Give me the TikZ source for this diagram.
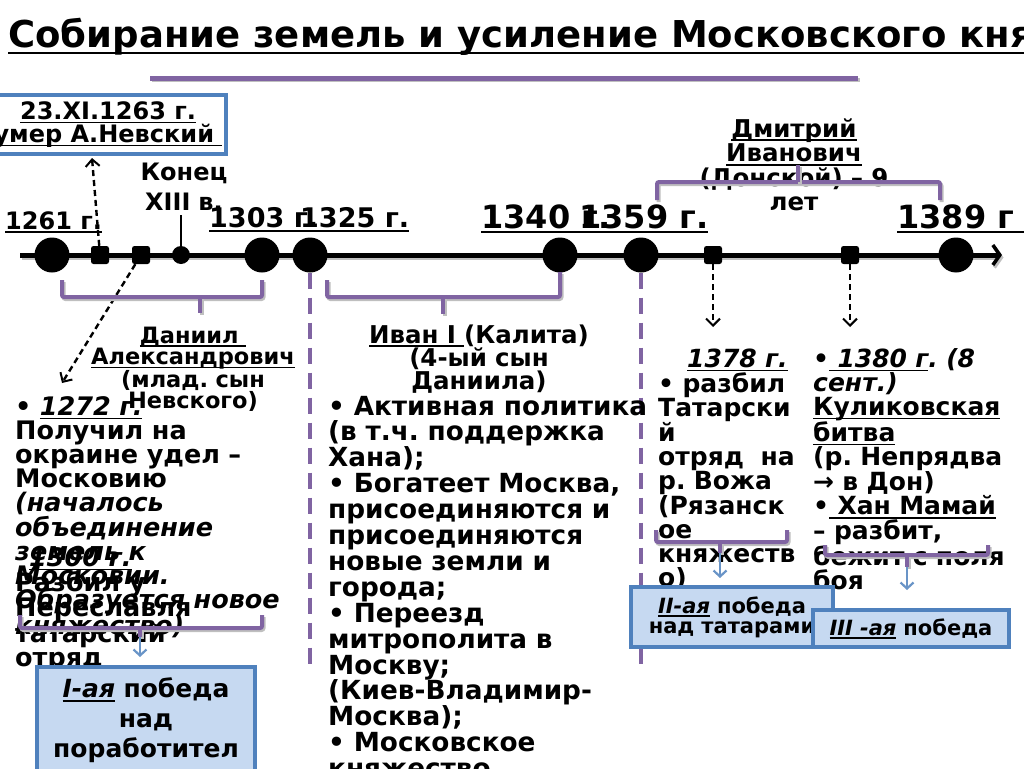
\documentclass[tikz,border=0pt]{standalone}
\usepackage{fontspec}
\setmainfont{DejaVu Sans}
\usetikzlibrary{arrows.meta,positioning}
\definecolor{brkpurple}{HTML}{8064A2}
\definecolor{boxblue}{HTML}{4F81BD}
\definecolor{boxfill}{HTML}{C6D9F1}
\lineskiplimit=-50pt
\frenchspacing
\newsavebox{\ulbox}
\newcommand{\undl}[1]{\leavevmode\sbox{\ulbox}{#1}\rlap{\vrule height -0.1em depth 0.17em width \wd\ulbox}\usebox{\ulbox}}
\tikzset{
  >={Straight Barb[length=7pt,width=14pt,line width=2pt]},
  tlpt/.style={circle,fill=black,minimum size=35pt,inner sep=0pt},
  tlsq/.style={rectangle,rounded corners=2.5pt,fill=black,minimum size=18pt,inner sep=0pt},
  tldot/.style={circle,fill=black,minimum size=18pt,inner sep=0pt},
  tlline/.style={line width=5pt,-{Straight Barb[length=7pt,width=20pt,line width=3.5pt]},
    preaction={draw=black!25,line width=5pt,transform canvas={shift={(1.5pt,-2.5pt)}}}},
  yearlbl/.style={anchor=base west,inner sep=0pt},
  brk/.style={draw=brkpurple,line width=4pt,rounded corners=2pt,
    preaction={draw=black!25,line width=4pt,transform canvas={shift={(1.5pt,-2pt)}}}},
  brkdash/.style={draw=brkpurple,line width=4pt,dash pattern=on 16pt off 9pt},
  pointer/.style={->,line width=2.4pt,dash pattern=on 6pt off 4pt},
  bluearr/.style={-{Straight Barb[length=6pt,width=13pt,line width=2.2pt]},draw=boxblue!85,line width=1.6pt},
  infotxt/.style={anchor=base west,inner sep=0pt,align=left},
  headtxt/.style={anchor=base,inner sep=0pt,align=center},
  winbox/.style={draw=boxblue,fill=boxfill,line width=3.5pt,inner sep=0pt,align=center},
}

\begin{document}
\begin{tikzpicture}[x=1pt,y=-1pt]
  \useasboundingbox (0,0) rectangle (1024,768);
  \clip (0,0) rectangle (1024,768);

  % title
  \node[yearlbl,font=\fontsize{37}{40}\selectfont\bfseries] (title) at (8,48)
    {\undl{Собирание земель и усиление Московского кня}};
  \draw[brk,line width=5pt,rounded corners=0pt] (150,78) -- (858,78);

  % box 1263
  \node[winbox,fill=white,minimum width=236pt,minimum height=59pt,
    font=\fontsize{24}{23}\selectfont\bfseries] (nevbox) at (108,124.5)
    {\undl{23.XI.1263 г.}\\\undl{умер А.Невский }};

  % timeline
  \coordinate (tlstart) at (20,255);
  \coordinate (tlend) at (1002,255);
  \draw[tlline] (tlstart) -- (tlend);
  \foreach \yr/\xx in {1261/52,1303/262,1325/310,1340/560,1359/641,1389/956}
    \node[tlpt] (t\yr) at (\xx,255) {};
  \foreach \yr/\xx in {1263/100,1272/141,1378/713,1380/850}
    \node[tlsq] (sq\yr) at (\xx,255) {};
  \node[tldot] (konec) at (181,255) {};
  \coordinate (kontop) at (181,215);
  \draw[line width=2.5pt] (konec) -- (kontop);

  % years
  \node[headtxt,text width=100pt,font=\fontsize{24}{30}\selectfont\bfseries] (konlbl)
    at (184,180) {Конец\\XIII в.};
  \node[yearlbl,font=\fontsize{24}{24}\selectfont\bfseries] (l1261) at (5,229) {\undl{1261 г.}};
  \node[yearlbl,font=\fontsize{27}{27}\selectfont\bfseries] (l1303) at (209,227) {\undl{1303 г.}};
  \node[yearlbl,font=\fontsize{27}{27}\selectfont\bfseries] (l1325) at (300,227) {\undl{1325 г.}};
  \node[yearlbl,font=\fontsize{32}{32}\selectfont\bfseries] (l1340) at (481,228) {\undl{1340 г.}};
  \node[yearlbl,font=\fontsize{32}{32}\selectfont\bfseries] (l1359) at (579,228) {\undl{1359 г.}};
  \node[yearlbl,font=\fontsize{32}{32}\selectfont\bfseries] (l1389) at (897,228) {\undl{1389 г\ \ }};

  \node[headtxt,text width=220pt,font=\fontsize{24.5}{24.5}\selectfont\bfseries] (dmlbl)
    at (794,137) {\undl{Дмитрий}\\\undl{Иванович}\\(Донской) – 9\\лет};
  \draw[brk] (657,200) -- (657,182) -- (940,182) -- (940,200);
  \draw[brk] (798,182) -- (798,165);

  % pointers
  \coordinate (p1263) at (92,158);
  \coordinate (p1272) at (62,383);
  \coordinate (p1378) at (713,327);
  \coordinate (p1380) at (850,327);
  \draw[pointer] (sq1263) -- (p1263);
  \draw[pointer] (sq1272) -- (p1272);
  \draw[pointer] (sq1378) -- (p1378);
  \draw[pointer] (sq1380) -- (p1380);

  % periods
  \coordinate (d1325) at (310,668);
  \coordinate (d1359) at (641,668);
  \draw[brkdash] (t1325.south) -- (d1325);
  \draw[brkdash] (t1359.south) -- (d1359);
  \draw[brk] (62,280) -- (62,297) -- (262,297) -- (262,280);
  \draw[brk] (200,297) -- (200,313);
  \draw[brk] (327,280) -- (327,297) -- (560,297) -- (560,272);
  \draw[brk] (443,297) -- (443,314);

  % Daniil
  \node[headtxt,text width=220pt,font=\fontsize{22.5}{21.5}\selectfont\bfseries] (danlbl)
    at (193,343) {\undl{Даниил }\\\undl{Александрович}\\(млад. сын\\Невского)};
  \node[infotxt,text width=320pt,font=\fontsize{25.5}{24.2}\selectfont\bfseries] (dantxt)
    at (15,415) {• \undl{\itshape 1272 г.}\\Получил на\\окраине удел –\\Московию\\
    \textit{(началось}\\\textit{объединение}\\\textit{земель к}\\\textit{Московии.}\\
    \textit{Образуется новое}\\\textit{княжество)}};
  \node[infotxt,text width=320pt,font=\fontsize{25.5}{23.8}\selectfont\bfseries] (d1300txt)
    at (15,566) {\hspace*{14pt}\undl{\itshape 1300 г.}\\Разбил у\\Переславля\\татарский\\отряд};

  % Ivan
  \node[headtxt,text width=300pt,font=\fontsize{24.5}{22.5}\selectfont\bfseries] (ivlbl)
    at (479,343) {\undl{Иван I }(Калита)\\(4-ый сын\\Даниила)};
  \node[infotxt,text width=340pt,font=\fontsize{26.3}{25.9}\selectfont\bfseries] (ivtxt)
    at (328,415) {• Активная политика\\(в т.ч. поддержка\\Хана);\\• Богатеет Москва,\\
    присоединяются и\\присоединяются\\новые земли и\\города;\\• Переезд\\митрополита в\\
    Москву;\\(Киев-Владимир-\\Москва);\\• Московское\\княжество};

  % Dmitry
  \node[infotxt,text width=160pt,font=\fontsize{25}{24}\selectfont\bfseries] (t1378txt)
    at (658,367) {\hspace*{29pt}\undl{\itshape 1378 г.}\\• разбил\\Татарски\\й\\отряд\ \ на\\
    р. Вожа\\(Рязанск\\ое\\княжеств\\о)};
  \node[infotxt,text width=220pt,font=\fontsize{25}{24}\selectfont\bfseries] (t1380txt)
    at (813,367) {•\undl{\itshape\ 1380 г}\textit{. (8}\\\textit{сент.)}\\\undl{Куликовская}\\
    \undl{битва}\\(р. Непрядва\\→ в Дон)\\•\undl{ Хан Мамай}\\– разбит,\\бежит с поля\\боя};

  % victories
  \draw[brk] (20,615) -- (20,628) -- (262,628) -- (262,615);
  \draw[brk] (140,628) -- (140,637);
  \draw[brk] (656,530) -- (656,542) -- (787,542) -- (787,530);
  \draw[brk] (720,542) -- (720,553);
  \draw[brk] (825,545) -- (825,555) -- (988,555) -- (988,545);
  \draw[brk] (907,555) -- (907,567);
  \coordinate (v1a) at (140,637);
  \coordinate (v1b) at (140,657);
  \coordinate (v2a) at (720,553);
  \coordinate (v2b) at (720,578);
  \coordinate (v3a) at (907,567);
  \coordinate (v3b) at (907,590);
  \draw[bluearr] (v1a) -- (v1b);
  \draw[bluearr] (v2a) -- (v2b);
  \draw[bluearr] (v3a) -- (v3b);

  \node[winbox,minimum width=218pt,minimum height=106pt,text width=214pt,
    font=\fontsize{25}{30}\selectfont\bfseries] (win1) at (146,720)
    {\undl{\itshape I-ая} победа\\над\\поработител};
  \node[winbox,minimum width=202pt,minimum height=60pt,text width=198pt,
    font=\fontsize{21}{20}\selectfont\bfseries] (win2) at (732,617)
    {\undl{\itshape II-ая} победа\\над татарами};
  \node[winbox,minimum width=196pt,minimum height=37pt,text width=192pt,
    font=\fontsize{21}{21}\selectfont\bfseries] (win3) at (911,628.5)
    {\undl{\itshape III -ая} победа};
\end{tikzpicture}
\end{document}
